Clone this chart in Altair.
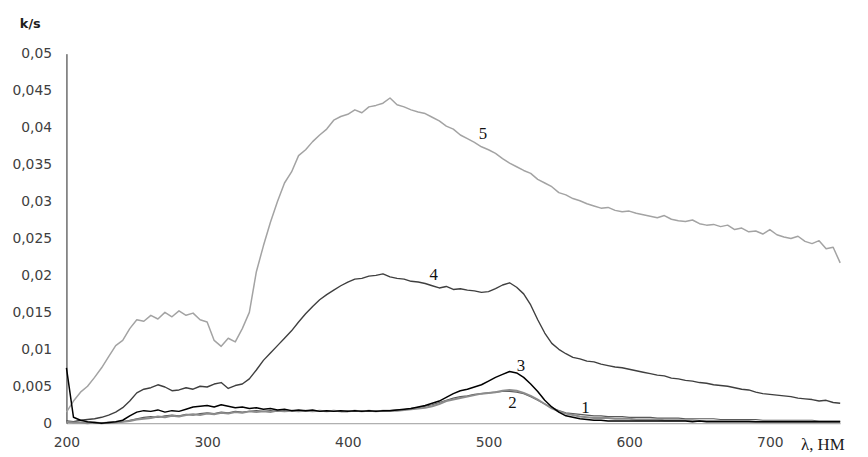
import altair as alt
import pandas as pd

wavelength = list(range(200, 755, 5))

s5 = [0.0015, 0.0030, 0.0042, 0.0050, 0.0062, 0.0075, 0.0090, 0.0105, 0.0112, 0.0128,
      0.0140, 0.0138, 0.0146, 0.0141, 0.0150, 0.0144, 0.0152, 0.0146, 0.0149, 0.0140,
      0.0137, 0.0112, 0.0104, 0.0115, 0.0110, 0.0128, 0.0150, 0.0205, 0.0240, 0.0272,
      0.0300, 0.0325, 0.0340, 0.0362, 0.0370, 0.0381, 0.0390, 0.0398, 0.0410, 0.0415,
      0.0418, 0.0424, 0.0420, 0.0428, 0.0430, 0.0433, 0.0440, 0.0431, 0.0428, 0.0424,
      0.0421, 0.0419, 0.0414, 0.0409, 0.0402, 0.0398, 0.0390, 0.0385, 0.0380, 0.0374,
      0.0370, 0.0365, 0.0358, 0.0352, 0.0347, 0.0342, 0.0338, 0.0330, 0.0325, 0.0320,
      0.0312, 0.0309, 0.0304, 0.0301, 0.0297, 0.0294, 0.0291, 0.0292, 0.0288, 0.0286,
      0.0287, 0.0284, 0.0282, 0.0280, 0.0278, 0.0281, 0.0276, 0.0274, 0.0273, 0.0275,
      0.0270, 0.0268, 0.0269, 0.0266, 0.0268, 0.0262, 0.0264, 0.0259, 0.0260, 0.0256,
      0.0262, 0.0255, 0.0252, 0.0250, 0.0253, 0.0246, 0.0243, 0.0247, 0.0236, 0.0238,
      0.0217]

s4 = [0.0003, 0.0002, 0.0004, 0.0005, 0.0006, 0.0008, 0.0011, 0.0015, 0.0021, 0.0030,
      0.0041, 0.0046, 0.0048, 0.0052, 0.0049, 0.0044, 0.0045, 0.0048, 0.0046, 0.0050,
      0.0049, 0.0053, 0.0055, 0.0047, 0.0051, 0.0053, 0.0060, 0.0072, 0.0085, 0.0095,
      0.0105, 0.0115, 0.0125, 0.0137, 0.0148, 0.0158, 0.0167, 0.0174, 0.0180, 0.0186,
      0.0191, 0.0195, 0.0196, 0.0199, 0.0200, 0.0202, 0.0198, 0.0196, 0.0195, 0.0192,
      0.0191, 0.0189, 0.0186, 0.0183, 0.0185, 0.0181, 0.0182, 0.0180, 0.0179, 0.0177,
      0.0178, 0.0182, 0.0187, 0.0190, 0.0184, 0.0175, 0.0160, 0.0140, 0.0122, 0.0108,
      0.0100, 0.0094, 0.0089, 0.0087, 0.0084, 0.0083, 0.0080, 0.0078, 0.0076, 0.0075,
      0.0073, 0.0071, 0.0069, 0.0067, 0.0065, 0.0064, 0.0061, 0.0060, 0.0058, 0.0057,
      0.0055, 0.0054, 0.0052, 0.0051, 0.0050, 0.0048, 0.0046, 0.0045, 0.0042, 0.0040,
      0.0039, 0.0038, 0.0037, 0.0036, 0.0034, 0.0033, 0.0032, 0.0030, 0.0031, 0.0028,
      0.0027]

s3 = [0.0075, 0.0008, 0.0004, 0.0002, 0.0001, 0.0000, 0.0001, 0.0002, 0.0004, 0.0010,
      0.0015, 0.0017, 0.0016, 0.0018, 0.0015, 0.0017, 0.0016, 0.0019, 0.0022, 0.0023,
      0.0024, 0.0022, 0.0025, 0.0023, 0.0021, 0.0022, 0.0020, 0.0021, 0.0019, 0.0020,
      0.0018, 0.0019, 0.0017, 0.0018, 0.0017, 0.0018, 0.0016, 0.0017, 0.0016, 0.0017,
      0.0016, 0.0017, 0.0016, 0.0017, 0.0016, 0.0017, 0.0017, 0.0018, 0.0019, 0.0020,
      0.0022, 0.0024, 0.0027, 0.0030, 0.0035, 0.0040, 0.0044, 0.0046, 0.0049, 0.0052,
      0.0057, 0.0062, 0.0066, 0.0070, 0.0068, 0.0062, 0.0053, 0.0043, 0.0031, 0.0022,
      0.0015, 0.0010, 0.0008, 0.0006, 0.0005, 0.0004, 0.0004, 0.0003, 0.0003, 0.0003,
      0.0003, 0.0003, 0.0003, 0.0003, 0.0003, 0.0003, 0.0003, 0.0003, 0.0003, 0.0002,
      0.0003, 0.0002, 0.0002, 0.0002, 0.0002, 0.0002, 0.0002, 0.0002, 0.0002, 0.0002,
      0.0002, 0.0002, 0.0002, 0.0002, 0.0002, 0.0002, 0.0002, 0.0002, 0.0002, 0.0002,
      0.0002]

s2 = [0.0002, 0.0001, 0.0001, 0.0000, 0.0001, 0.0000, 0.0001, 0.0001, 0.0002, 0.0003,
      0.0005, 0.0006, 0.0007, 0.0009, 0.0008, 0.0010, 0.0009, 0.0011, 0.0012, 0.0011,
      0.0013, 0.0012, 0.0014, 0.0013, 0.0015, 0.0014, 0.0016, 0.0015, 0.0016, 0.0015,
      0.0017, 0.0016, 0.0017, 0.0016, 0.0017, 0.0016, 0.0017, 0.0016, 0.0017, 0.0016,
      0.0016, 0.0017, 0.0016, 0.0017, 0.0016, 0.0017, 0.0017, 0.0017, 0.0018, 0.0019,
      0.0020, 0.0021, 0.0023, 0.0026, 0.0030, 0.0032, 0.0034, 0.0036, 0.0038, 0.0040,
      0.0041, 0.0042, 0.0044, 0.0045, 0.0044, 0.0041, 0.0037, 0.0032, 0.0026, 0.0020,
      0.0016, 0.0013, 0.0011, 0.0009, 0.0008, 0.0007, 0.0007, 0.0007, 0.0006, 0.0006,
      0.0006, 0.0005, 0.0005, 0.0005, 0.0005, 0.0004, 0.0004, 0.0004, 0.0004, 0.0004,
      0.0003, 0.0003, 0.0003, 0.0003, 0.0003, 0.0003, 0.0003, 0.0003, 0.0002, 0.0002,
      0.0002, 0.0002, 0.0002, 0.0002, 0.0002, 0.0002, 0.0002, 0.0002, 0.0002, 0.0002,
      0.0002]

s1 = [0.0002, 0.0001, 0.0001, 0.0001, 0.0000, 0.0001, 0.0000, 0.0001, 0.0002, 0.0004,
      0.0006, 0.0008, 0.0009, 0.0008, 0.0010, 0.0011, 0.0010, 0.0012, 0.0011, 0.0013,
      0.0014, 0.0013, 0.0015, 0.0014, 0.0016, 0.0015, 0.0016, 0.0017, 0.0016, 0.0017,
      0.0016, 0.0017, 0.0016, 0.0017, 0.0016, 0.0017, 0.0016, 0.0016, 0.0017, 0.0016,
      0.0017, 0.0016, 0.0017, 0.0016, 0.0017, 0.0016, 0.0017, 0.0018, 0.0018, 0.0020,
      0.0021, 0.0023, 0.0025, 0.0028, 0.0031, 0.0034, 0.0036, 0.0037, 0.0039, 0.0040,
      0.0041, 0.0042, 0.0043, 0.0043, 0.0042, 0.0040, 0.0036, 0.0031, 0.0026, 0.0021,
      0.0017, 0.0014, 0.0013, 0.0012, 0.0011, 0.0010, 0.0010, 0.0009, 0.0009, 0.0009,
      0.0008, 0.0008, 0.0008, 0.0008, 0.0007, 0.0007, 0.0007, 0.0007, 0.0006, 0.0006,
      0.0006, 0.0006, 0.0006, 0.0005, 0.0005, 0.0005, 0.0005, 0.0005, 0.0005, 0.0004,
      0.0004, 0.0004, 0.0004, 0.0004, 0.0004, 0.0004, 0.0004, 0.0003, 0.0003, 0.0003,
      0.0003]

series_names = ["5", "4", "1", "2", "3"]
series_values = [s5, s4, s1, s2, s3]
series_colors = ["#a3a3a3", "#3f3f3f", "#5a5a5a", "#8c8c8c", "#000000"]
series_widths = [1.5, 1.4, 1.2, 2.0, 1.5]

label_text = ["5", "4", "3", "2", "1"]
label_lambda = [496, 461, 523, 517, 569]
label_value = [0.0391, 0.0201, 0.0078, 0.0027, 0.0020]

y_ticks = [0, 0.005, 0.01, 0.015, 0.02, 0.025, 0.03, 0.035, 0.04, 0.045, 0.05]
x_ticks = [200, 300, 400, 500, 600, 700]

xscale = alt.Scale(domain=[200, 750], nice=False, zero=False)
yscale = alt.Scale(domain=[0, 0.05], nice=False)

x_axis = alt.Axis(values=x_ticks, grid=False, ticks=False, domainColor="#9a9a9a",
                  labelFont="DejaVu Sans", labelFontSize=14, labelColor="#404040",
                  labelPadding=13, labelFlush=False,
                  title="λ, НМ", titleFont="Liberation Serif",
                  titleFontSize=17, titleFontWeight="normal", titleColor="#202020",
                  titleX=763, titleY=22, titleAlign="center", titleBaseline="middle")
y_axis = alt.Axis(values=y_ticks, grid=False, ticks=False, domainColor="#202020",
                  labelFont="DejaVu Sans", labelFontSize=14, labelColor="#404040",
                  labelPadding=15, labelFlush=False,
                  labelExpr="replace(format(datum.value, '.3~f'), '.', ',')",
                  title="k/s", titleFont="DejaVu Sans", titleFontSize=13,
                  titleFontWeight="bold", titleColor="#202020", titleAngle=0,
                  titleX=-37, titleY=-30, titleAlign="center", titleBaseline="middle")

layers = []
for name, vals, col, w in zip(series_names, series_values, series_colors, series_widths):
    df = pd.DataFrame({"lam": wavelength, "val": vals, "series": name})
    layers.append(alt.Chart(df).mark_line(color=col, strokeWidth=w,
                                          strokeJoin="round").encode(
        x=alt.X("lam:Q", scale=xscale, axis=x_axis),
        y=alt.Y("val:Q", scale=yscale, axis=y_axis)))

labels_df = pd.DataFrame({"lam": label_lambda, "val": label_value, "txt": label_text})
labels = alt.Chart(labels_df).mark_text(font="Liberation Serif", fontSize=17,
                                        color="#111111", baseline="middle").encode(
    x=alt.X("lam:Q", scale=xscale, axis=x_axis),
    y=alt.Y("val:Q", scale=yscale, axis=y_axis),
    text="txt:N")

chart = alt.layer(*layers, labels).properties(
    width=781, height=373,
    autosize=alt.AutoSizeParams(type="none"),
    padding={"left": 59, "top": 44, "right": 20, "bottom": 32},
).configure(background="white").configure_view(strokeWidth=0)

chart.save("out.html", embed_options={"renderer": "svg", "actions": False})
